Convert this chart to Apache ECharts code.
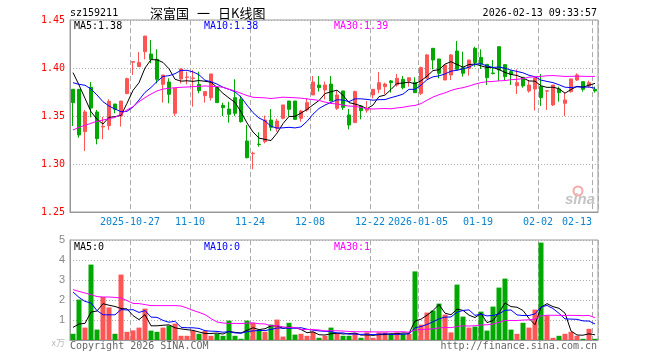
<!DOCTYPE html>
<html><head><meta charset="utf-8">
<script src="https://cdn.jsdelivr.net/npm/echarts@6/dist/echarts.min.js"></script>
<style>html,body{margin:0;padding:0;background:#fff}#c{width:660px;height:360px}</style>
</head><body><div id="c"></div>
<script>
const dates = [
'2025-10-13','2025-10-14','2025-10-15','2025-10-16','2025-10-17','2025-10-20','2025-10-21','2025-10-22','2025-10-23','2025-10-24',
'2025-10-27','2025-10-28','2025-10-29','2025-10-30','2025-10-31',
'2025-11-03','2025-11-04','2025-11-05','2025-11-06','2025-11-07','2025-11-10','2025-11-11','2025-11-12','2025-11-13','2025-11-14',
'2025-11-17','2025-11-18','2025-11-19','2025-11-20','2025-11-21','2025-11-24','2025-11-25','2025-11-26','2025-11-27','2025-11-28',
'2025-12-01','2025-12-02','2025-12-03','2025-12-04','2025-12-05','2025-12-08','2025-12-09','2025-12-10','2025-12-11','2025-12-12',
'2025-12-15','2025-12-16','2025-12-17','2025-12-18','2025-12-19','2025-12-22','2025-12-23','2025-12-24','2025-12-25','2025-12-26',
'2025-12-29','2025-12-30','2025-12-31',
'2026-01-05','2026-01-06','2026-01-07','2026-01-08','2026-01-09','2026-01-12','2026-01-13','2026-01-14','2026-01-15','2026-01-16',
'2026-01-19','2026-01-20','2026-01-21','2026-01-22','2026-01-23','2026-01-26','2026-01-27','2026-01-28','2026-01-29','2026-01-30',
'2026-02-02','2026-02-03','2026-02-04','2026-02-05','2026-02-06','2026-02-09','2026-02-10','2026-02-11','2026-02-12','2026-02-13'];

const opens = [1.3778,1.3778,1.3337,1.3799,1.3542,1.3386,1.3399,1.3625,1.3500,1.3733,
1.4060,1.4014,1.4170,1.4146,1.4090,1.3830,1.3854,1.3528,1.3886,1.3903,
1.3892,1.3830,1.3712,1.3691,1.3799,1.3611,1.3573,1.3691,1.3674,1.3240,
1.3107,1.3207,1.3233,1.3458,1.3372,1.3476,1.3656,1.3656,1.3476,1.3563,
1.3719,1.3823,1.3771,1.3833,1.3580,1.3761,1.3511,1.3431,1.3604,1.3560,
1.3719,1.3778,1.3806,1.3865,1.3823,1.3882,1.3865,1.3851,1.3736,1.3893,
1.4205,1.4094,1.3875,1.3927,1.4177,1.4004,1.3997,1.4205,1.4111,1.4038,
1.3948,1.4222,1.4035,1.3962,1.3816,1.3903,1.3761,1.3781,1.3806,1.3759,
1.3615,1.3781,1.3632,1.3754,1.3875,1.3858,1.3813,1.3778];
const closes = [1.3639,1.3302,1.3542,1.3583,1.3264,1.3393,1.3653,1.3570,1.3656,1.3889,
1.4066,1.4056,1.4333,1.4090,1.3882,1.3927,1.3726,1.3788,1.3990,1.3906,
1.3896,1.3764,1.3754,1.3938,1.3639,1.3587,1.3518,1.3528,1.3441,1.3066,
1.3112,1.3203,1.3458,1.3382,1.3448,1.3615,1.3570,1.3465,1.3552,1.3639,
1.3854,1.3795,1.3823,1.3656,1.3719,1.3590,1.3406,1.3754,1.3556,1.3575,
1.3778,1.3847,1.3833,1.3847,1.3893,1.3795,1.3899,1.3743,1.4004,1.4136,
1.4083,1.3945,1.4031,1.4136,1.3986,1.3945,1.4083,1.4056,1.4042,1.3899,
1.3942,1.3979,1.3910,1.3934,1.3847,1.3813,1.3823,1.3899,1.3691,1.3763,
1.3823,1.3743,1.3667,1.3886,1.3927,1.3778,1.3847,1.3761];
const lows = [1.3396,1.3274,1.3136,1.3486,1.3205,1.3257,1.3354,1.3528,1.3389,1.3733,
1.3927,1.4014,1.4090,1.4049,1.3840,1.3639,1.3632,1.3500,1.3840,1.3830,
1.3597,1.3736,1.3639,1.3660,1.3639,1.3500,1.3431,1.3500,1.3431,1.3059,
1.2945,1.3181,1.3215,1.3344,1.3337,1.3465,1.3493,1.3458,1.3441,1.3545,
1.3719,1.3754,1.3674,1.3656,1.3563,1.3563,1.3361,1.3431,1.3465,1.3535,
1.3684,1.3736,1.3729,1.3743,1.3806,1.3778,1.3806,1.3743,1.3719,1.3893,
1.3986,1.3893,1.3875,1.3875,1.3972,1.3910,1.3920,1.4014,1.3990,1.3823,
1.3934,1.3865,1.3875,1.3823,1.3729,1.3795,1.3743,1.3556,1.3604,1.3563,
1.3604,1.3649,1.3500,1.3743,1.3865,1.3754,1.3795,1.3743];
const highs = [1.3780,1.3780,1.3563,1.3854,1.3563,1.3490,1.3674,1.3625,1.3656,1.3899,
1.4073,1.4167,1.4333,1.4292,1.4195,1.3927,1.3893,1.3788,1.3997,1.3962,
1.3979,1.3962,1.3754,1.3938,1.3799,1.3639,1.3649,1.3882,1.3712,1.3406,
1.3129,1.3330,1.3504,1.3573,1.3472,1.3615,1.3656,1.3656,1.3563,1.3684,
1.3917,1.3917,1.3858,1.3917,1.3761,1.3761,1.3573,1.3764,1.3611,1.3656,
1.3778,1.3958,1.3847,1.3875,1.3938,1.3917,1.3899,1.3903,1.4014,1.4146,
1.4205,1.4094,1.4038,1.4146,1.4281,1.4170,1.4083,1.4222,1.4195,1.4038,
1.4083,1.4222,1.4035,1.3979,1.3986,1.3903,1.3875,1.3899,1.3938,1.3763,
1.3823,1.3806,1.3743,1.3886,1.3945,1.3858,1.3868,1.3806];
const volumes = [0.31,2.02,0.62,3.77,0.52,2.15,1.63,0.31,3.27,0.41,
0.48,0.62,1.57,0.47,0.41,0.62,0.72,0.82,0.21,0.21,
0.45,0.31,0.45,0.21,0.31,0.21,0.97,0.21,0.06,0.97,
0.85,0.52,0.41,0.77,1.02,0.17,0.86,0.27,0.31,0.21,
0.41,0.11,0.21,0.62,0.35,0.21,0.21,0.35,0.11,0.38,
0.11,0.38,0.38,0.31,0.38,0.31,0.31,3.43,0.77,1.37,
1.47,1.82,1.27,0.38,2.77,1.17,0.62,0.67,1.42,0.47,
1.67,2.62,3.07,0.52,0.31,0.86,0.62,1.52,4.87,1.22,
0.11,0.21,0.31,0.41,0.21,0.06,0.56,0.06];

// moving-average values before enough visible history exists
const ma5Lead = [1.3952,1.3823,1.3684,1.3545];
const ma10Lead = [1.3847,1.3830,1.3820,1.3782,1.3719,1.3649,1.3604,1.3573,1.3545];
const ma30Lead = [1.3354,1.3382,1.3403,1.3424,1.3445,1.3458,1.3472,1.3486,1.3521,1.3563,
1.3597,1.3649,1.3691,1.3729,1.3761,1.3781,1.3788,1.3795,1.3799,1.3802,
1.3806,1.3809,1.3813,1.3809,1.3806,1.3799,1.3778,1.3761,1.3736];
const vma5Lead = [0.63,0.80,0.83,1.40];
const vma10Lead = [2.40,2.13,1.93,1.85,1.47,1.26,1.26,1.26,1.52];
const vma30Lead = [2.52,2.43,2.35,2.27,2.17,2.15,2.15,2.13,2.10,1.97,
1.83,1.82,1.77,1.72,1.72,1.72,1.72,1.72,1.70,1.60,
1.48,1.38,1.27,1.07,0.90,0.85,0.83,0.83,0.82];

const priceTicks = [1.25,1.30,1.35,1.40,1.45];
const tickDates = ['2025-10-27','2025-11-10','2025-11-24','2025-12-08','2025-12-22','2026-01-05','2026-01-19','2026-02-02','2026-02-13'];
const tickLabels = ['2025-10-27','11-10','11-24','12-08','12-22','2026-01-05','01-19','02-02','02-13'];

function ma(src, n, lead) {
  return src.map((v, i) => {
    if (i < n - 1) return lead[i];
    let s = 0; for (let k = i - n + 1; k <= i; k++) s += src[k];
    return +(s / n).toFixed(4);
  });
}
const ma5 = ma(closes, 5, ma5Lead), ma10 = ma(closes, 10, ma10Lead), ma30 = ma(closes, 30, ma30Lead);
const vma5 = ma(volumes, 5, vma5Lead), vma10 = ma(volumes, 10, vma10Lead), vma30 = ma(volumes, 30, vma30Lead);
const last = a => a[a.length - 1];

const UP = '#ff5555', DOWN = '#00a800';
const MONO = '"DejaVu Sans Mono", monospace';
const labelMap = {}; tickDates.forEach((d, i) => labelMap[d] = tickLabels[i]);
const isTick = (i, v) => labelMap[v] !== undefined;
const gridLineV = { show: true, interval: isTick, lineStyle: { color: '#aaa', type: [5, 3], width: 1 } };
const dotted = { show: true, lineStyle: { color: '#aaa', type: [1, 2], width: 1 } };

const kData = dates.map((d, i) => [opens[i], closes[i], lows[i], highs[i]]);
const volData = volumes.map((v, i) => ({ value: v, itemStyle: { color: closes[i] >= opens[i] ? UP : DOWN } }));

const txt = (x, y, text, fill, extra) => ({ type: 'text', x, y, z: 100,
  style: Object.assign({ text, fill, font: '10px ' + MONO, verticalAlign: 'middle' }, extra || {}) });
const cjk = (x, text) => ({ type: 'text', x, y: 13, z: 100,
  style: { text, fill: '#000', font: '13px "Noto Sans CJK SC"', verticalAlign: 'middle' } });

const chart = echarts.init(document.getElementById('c'), null, { renderer: 'canvas' });
chart.setOption({
  animation: false,
  backgroundColor: '#fff',
  grid: [
    { left: 70, top: 20, width: 528, height: 192, show: true, borderColor: '#999', borderWidth: 1, backgroundColor: 'transparent' },
    { left: 70, top: 240, width: 528, height: 100, show: true, borderColor: '#999', borderWidth: 1, backgroundColor: 'transparent' }
  ],
  xAxis: [
    { type: 'category', gridIndex: 0, data: dates, boundaryGap: true,
      axisLine: { lineStyle: { color: '#999' } }, axisTick: { show: false },
      splitLine: gridLineV,
      axisLabel: { interval: isTick, margin: 5, color: '#0a84d0', fontFamily: MONO, fontSize: 10,
        formatter: v => v === '2026-02-13' ? '{r|' + labelMap[v] + '}' : '{c|' + labelMap[v] + '}',
        rich: { c: { padding: [0, 6, 0, 0], color: '#0a84d0', fontFamily: MONO, fontSize: 10 },
                r: { padding: [0, 36, 0, 0], color: '#0a84d0', fontFamily: MONO, fontSize: 10 } } } },
    { type: 'category', gridIndex: 1, data: dates, boundaryGap: true,
      axisLine: { lineStyle: { color: '#999' } }, axisTick: { show: false }, axisLabel: { show: false },
      splitLine: gridLineV }
  ],
  yAxis: [
    { type: 'value', gridIndex: 0, min: 1.25, max: 1.45, interval: 0.05, scale: true,
      axisLine: { show: true, lineStyle: { color: '#999' } }, axisTick: { show: false },
      splitLine: dotted,
      axisLabel: { color: '#ff0000', fontFamily: MONO, fontSize: 10, margin: 5, formatter: v => v.toFixed(2) } },
    { type: 'value', gridIndex: 1, min: 0, max: 5, interval: 1,
      axisLine: { show: true, lineStyle: { color: '#999' } }, axisTick: { show: false },
      splitLine: dotted,
      axisLabel: { color: '#888', fontSize: 11, fontFamily: 'Liberation Sans', margin: 5,
        formatter: v => v === 0 ? '{u|x万}' : String(v),
        rich: { u: { color: '#bbb', fontSize: 9, fontFamily: '"Noto Sans CJK SC"', padding: [6, 0, 0, 0] } } } }
  ],
  series: [
    { type: 'candlestick', xAxisIndex: 0, yAxisIndex: 0, data: kData, barWidth: 4,
      itemStyle: { color: UP, color0: DOWN, borderColor: UP, borderColor0: DOWN, borderWidth: 1 } },
    { type: 'line', xAxisIndex: 0, yAxisIndex: 0, data: ma5, symbol: 'none', lineStyle: { color: '#000', width: 1 } },
    { type: 'line', xAxisIndex: 0, yAxisIndex: 0, data: ma10, symbol: 'none', lineStyle: { color: '#0000ff', width: 1 } },
    { type: 'line', xAxisIndex: 0, yAxisIndex: 0, data: ma30, symbol: 'none', lineStyle: { color: '#ff00ff', width: 1 } },
    { type: 'bar', xAxisIndex: 1, yAxisIndex: 1, data: volData, barWidth: 5 },
    { type: 'line', xAxisIndex: 1, yAxisIndex: 1, data: vma5, symbol: 'none', lineStyle: { color: '#000', width: 1 } },
    { type: 'line', xAxisIndex: 1, yAxisIndex: 1, data: vma10, symbol: 'none', lineStyle: { color: '#0000ff', width: 1 } },
    { type: 'line', xAxisIndex: 1, yAxisIndex: 1, data: vma30, symbol: 'none', lineStyle: { color: '#ff00ff', width: 1 } }
  ],
  graphic: [
    txt(70, 13, 'sz159211', '#000'),
    cjk(150, '深富国'), cjk(197, '一'), cjk(218, '日K线图'),
    txt(597, 13, '2026-02-13 09:33:57', '#000', { align: 'right' }),
    txt(74, 26, 'MA5:' + last(ma5).toFixed(2), '#000'),
    txt(204, 26, 'MA10:' + last(ma10).toFixed(2), '#0000ff'),
    txt(334, 26, 'MA30:' + last(ma30).toFixed(2), '#ff00ff'),
    txt(74, 247, 'MA5:' + Math.floor(last(vma5)), '#000'),
    txt(204, 247, 'MA10:' + Math.floor(last(vma10)), '#0000ff'),
    txt(334, 247, 'MA30:' + Math.floor(last(vma30)), '#ff00ff'),
    txt(70, 346, 'Copyright 2026 SINA.COM', '#666'),
    txt(597, 346, 'http://finance.sina.com.cn', '#666', { align: 'right' }),
    { type: 'circle', shape: { cx: 578, cy: 191, r: 4.5 }, z: 1, style: { fill: 'none', stroke: '#f8a8a8', lineWidth: 2 } },
    { type: 'text', x: 565, y: 200, z: 1, style: { text: 'sina', fill: '#c4c4c4', font: 'italic bold 15px "Liberation Sans"', verticalAlign: 'middle' } }
  ]
});
</script></body></html>
